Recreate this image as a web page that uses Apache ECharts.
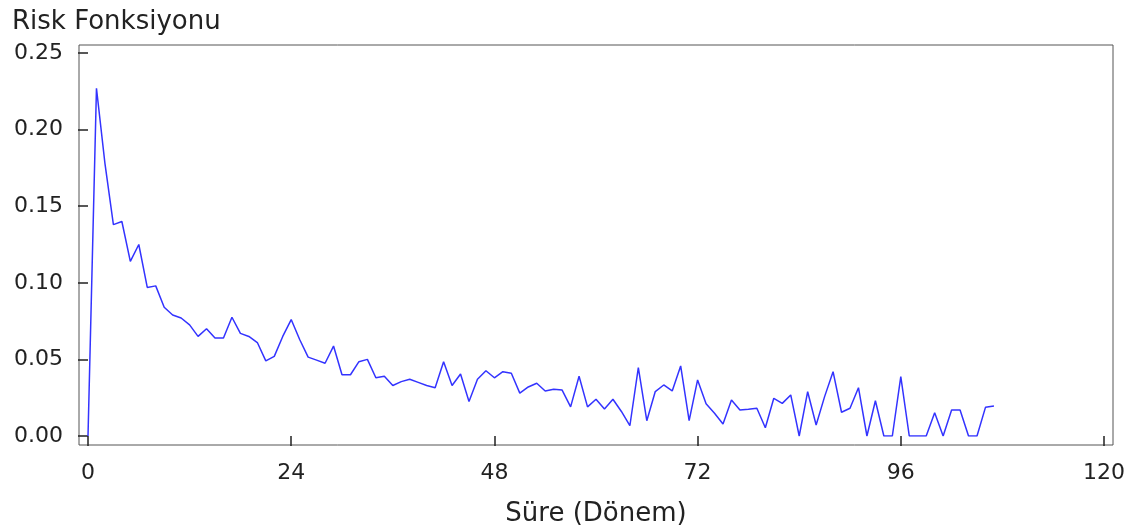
<!DOCTYPE html>
<html>
<head>
<meta charset="utf-8">
<title>Risk Fonksiyonu</title>
<script src="https://cdn.jsdelivr.net/npm/echarts@6/dist/echarts.min.js"></script>
<style>
  html, body { margin: 0; padding: 0; background: #fff; }
  #chart { width: 1136px; height: 532px; }
</style>
</head>
<body>
<div id="chart"></div>
<script>
// hazard (risk) value for each period, index = period 0..107
const hazard = [
  0, 0.227, 0.178, 0.138, 0.140, 0.114, 0.125, 0.097, 0.098, 0.084,
  0.079, 0.077, 0.0725, 0.065, 0.070, 0.064, 0.064, 0.0775, 0.067, 0.065,
  0.061, 0.049, 0.052, 0.065, 0.076, 0.063, 0.0515, 0.0495, 0.0475, 0.0587,
  0.040, 0.040, 0.0485, 0.050, 0.038, 0.039, 0.033, 0.0355, 0.037, 0.035,
  0.033, 0.0315, 0.0485, 0.033, 0.0405, 0.0225, 0.037, 0.0426, 0.038, 0.042,
  0.041, 0.028, 0.032, 0.0344, 0.0294, 0.0305, 0.030, 0.019, 0.039, 0.019,
  0.024, 0.0176, 0.024, 0.016, 0.0067, 0.0446, 0.010, 0.029, 0.0333, 0.0294,
  0.0457, 0.010, 0.0366, 0.021, 0.0148, 0.0078, 0.0235, 0.017, 0.0174, 0.0181,
  0.0054, 0.0246, 0.0213, 0.0268, 0, 0.0289, 0.0072, 0.0257, 0.042, 0.0155,
  0.0181, 0.0315, 0, 0.023, 0, 0, 0.0387, 0, 0, 0,
  0.0152, 0, 0.017, 0.017, 0, 0, 0.0187, 0.0196
];
const xTicks = [0, 24, 48, 72, 96, 120];
const yTicks = [0, 0.05, 0.10, 0.15, 0.20, 0.25];

const titleText = "Risk Fonksiyonu";
const xName = "Süre (Dönem)";

const font = "DejaVu Sans";
const txt = "#222";

const chart = echarts.init(document.getElementById("chart"));
chart.setOption({
  animation: false,
  title: {
    text: titleText,
    left: 7,
    top: 4,
    textStyle: { fontFamily: font, fontSize: 26, fontWeight: "normal", color: txt }
  },
  grid: [
    // frame
    { left: 79, right: 23, top: 45, bottom: 87, show: true, borderColor: "#555", borderWidth: 1, backgroundColor: "#fff" },
    // data area
    { left: 88, right: 32, top: 53, bottom: 96 }
  ],
  xAxis: [
    { gridIndex: 0, type: "value", show: false, min: 0, max: 1 },
    {
      gridIndex: 1,
      type: "value",
      min: xTicks[0],
      max: xTicks[xTicks.length - 1],
      interval: 24,
      offset: 9,
      name: xName,
      nameLocation: "middle",
      nameGap: 56,
      nameTextStyle: { fontFamily: font, fontSize: 26, color: txt },
      axisLine: { show: false },
      axisTick: { show: true, length: 10, inside: false, lineStyle: { color: "#222", width: 1.5 } },
      axisLabel: { margin: 17, fontFamily: font, fontSize: 22, color: txt },
      splitLine: { show: false }
    }
  ],
  yAxis: [
    { gridIndex: 0, type: "value", show: false, min: 0, max: 1 },
    {
      gridIndex: 1,
      type: "value",
      min: yTicks[0],
      max: yTicks[yTicks.length - 1],
      interval: 0.05,
      offset: 9,
      axisLine: { show: false },
      axisTick: { show: true, length: 10, inside: false, lineStyle: { color: "#222", width: 1.5 } },
      axisLabel: {
        margin: 16,
        fontFamily: font,
        fontSize: 22,
        color: txt,
        formatter: v => v.toFixed(2)
      },
      splitLine: { show: false }
    }
  ],
  series: [
    {
      type: "line",
      xAxisIndex: 1,
      yAxisIndex: 1,
      data: hazard.map((v, i) => [i, v]),
      showSymbol: false,
      lineStyle: { color: "#3333ff", width: 1.5 }
    }
  ]
});
</script>
</body>
</html>
